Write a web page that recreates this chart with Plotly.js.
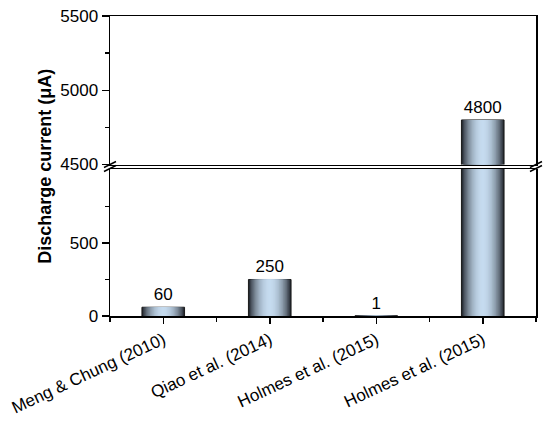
<!DOCTYPE html>
<html>
<head>
<meta charset="utf-8">
<script src="https://cdn.plot.ly/plotly-3.0.1.min.js"></script>
<style>
  body { margin: 0; background: #fff; }
  #chart { width: 550px; height: 423px; }
</style>
</head>
<body>
<div id="chart"></div>
<script>
const categories = ["Meng & Chung (2010)", "Qiao et al. (2014)", "Holmes et al. (2015)", "Holmes et al. (2015)"];
const currents = [60, 250, 1, 4800];
const valueLabels = ["60", "250", "1", "4800"];

const lowerRange = [0, 1010];
const upperRange = [4500, 5500];
const lowerTicks = [0, 500];
const lowerMinor = [250, 750];
const upperTicks = [4500, 5000, 5500];
const upperMinor = [4750, 5250];

document.addEventListener("DOMContentLoaded", function () {
  const xs = categories.map((c, i) => i);
  const font = "Liberation Sans, Arial, sans-serif";

  // cylinder look: stacked overlay bars, narrower ones lighter
  const dark = [36, 40, 48];
  const light = [198, 220, 240];
  const layers = 16;
  const barWidth = 0.4;

  function shade(t) {
    const c = dark.map((d, j) => Math.round(d + (light[j] - d) * t));
    return "rgb(" + c.join(",") + ")";
  }

  let traces = [];
  for (let k = 0; k < layers; k++) {
    const f = 1 - k / layers;
    const t = Math.pow(1 - f * f, 0.9);
    const isOuter = k === 0;
    // lower panel
    traces.push({
      type: "bar",
      x: xs,
      y: currents,
      xaxis: "x",
      yaxis: "y",
      width: barWidth * f,
      marker: {
        color: shade(t),
        line: { width: isOuter ? 1 : 0, color: "#1a1a1a" },
      },
      text: isOuter ? currents.map((v, i) => (v <= lowerRange[1] ? valueLabels[i] : "")) : undefined,
      textposition: "outside",
      textfont: { family: font, size: 17, color: "#000" },
      constraintext: "none",
      hoverinfo: "skip",
      showlegend: false,
    });
    // upper panel
    traces.push({
      type: "bar",
      x: xs,
      y: currents,
      xaxis: "x2",
      yaxis: "y2",
      width: barWidth * f,
      marker: {
        color: shade(t),
        line: { width: isOuter ? 1 : 0, color: "#1a1a1a" },
      },
      text: isOuter ? currents.map((v, i) => (v >= upperRange[0] ? valueLabels[i] : "")) : undefined,
      textposition: "outside",
      textfont: { family: font, size: 17, color: "#000" },
      constraintext: "none",
      hoverinfo: "skip",
      showlegend: false,
    });
  }

  const lowTop = 147.5 / 300;
  const upBottom = 151.5 / 300;
  const mid = (lowTop + upBottom) / 2;

  // the "//" marks on both sides of the axis break
  function slashes(xa) {
    return [-1, 1].map((s) => ({
      type: "line", xref: "paper", yref: "paper",
      xsizemode: "pixel", ysizemode: "pixel",
      xanchor: xa, yanchor: mid,
      x0: -6, x1: 6, y0: -3 + s * 2, y1: 3 + s * 2,
      line: { color: "#000", width: 1.5 },
    }));
  }

  let layout = {
    width: 550,
    height: 423,
    margin: { l: 110, r: 14, t: 16, b: 107 },
    paper_bgcolor: "#fff",
    plot_bgcolor: "rgba(0,0,0,0)",
    barmode: "overlay",
    font: { family: font, size: 17, color: "#000" },
    xaxis: {
      anchor: "y",
      range: [-0.5, 3.5],
      tickmode: "array",
      tickvals: xs,
      ticktext: categories,
      tickangle: -25,
      ticks: "outside",
      ticklen: 6,
      tickwidth: 1.5,
      tickcolor: "#000",
      minor: { tickmode: "array", tickvals: [-0.5, 0.5, 1.5, 2.5, 3.5], ticks: "outside", ticklen: 4, tickwidth: 1.5, tickcolor: "#000" },
      showline: true,
      linewidth: 1.5,
      linecolor: "#000",
      showgrid: false,
      zeroline: false,
      tickfont: { size: 17 },
    },
    xaxis2: {
      anchor: "y2",
      matches: "x",
      showticklabels: false,
      ticks: "",
      showline: true,
      mirror: true,
      linewidth: 1.5,
      linecolor: "#000",
      showgrid: false,
      zeroline: false,
    },
    yaxis: {
      domain: [0, lowTop],
      range: lowerRange,
      tickmode: "array",
      tickvals: lowerTicks,
      ticks: "outside",
      ticklen: 7,
      tickwidth: 1.5,
      tickcolor: "#000",
      minor: { tickmode: "array", tickvals: lowerMinor, ticks: "outside", ticklen: 4, tickwidth: 1.5, tickcolor: "#000" },
      showline: true,
      mirror: true,
      linewidth: 1.5,
      linecolor: "#000",
      showgrid: false,
      zeroline: false,
      tickfont: { size: 17 },
    },
    yaxis2: {
      domain: [upBottom, 1],
      range: upperRange,
      tickmode: "array",
      tickvals: upperTicks,
      ticks: "outside",
      ticklen: 7,
      tickwidth: 1.5,
      tickcolor: "#000",
      minor: { tickmode: "array", tickvals: upperMinor, ticks: "outside", ticklen: 4, tickwidth: 1.5, tickcolor: "#000" },
      showline: true,
      mirror: true,
      linewidth: 1.5,
      linecolor: "#000",
      showgrid: false,
      zeroline: false,
      tickfont: { size: 17 },
    },
    shapes: [
      {
        type: "line", xref: "paper", yref: "paper",
        x0: 0, x1: 1, y0: lowTop, y1: lowTop,
        line: { color: "#000", width: 1 },
      },
    ].concat(slashes(0), slashes(1)),
    annotations: [
      {
        text: "<b>Discharge current (μA)</b>",
        xref: "paper", yref: "paper",
        x: -0.153, y: 0.5,
        xanchor: "center", yanchor: "middle",
        textangle: -90,
        showarrow: false,
        font: { family: font, size: 18, color: "#000" },
      },
    ],
  };

  let config = { responsive: false, displayModeBar: false, staticPlot: true };

  Plotly.newPlot("chart", traces, layout, config);
});
</script>
</body>
</html>
